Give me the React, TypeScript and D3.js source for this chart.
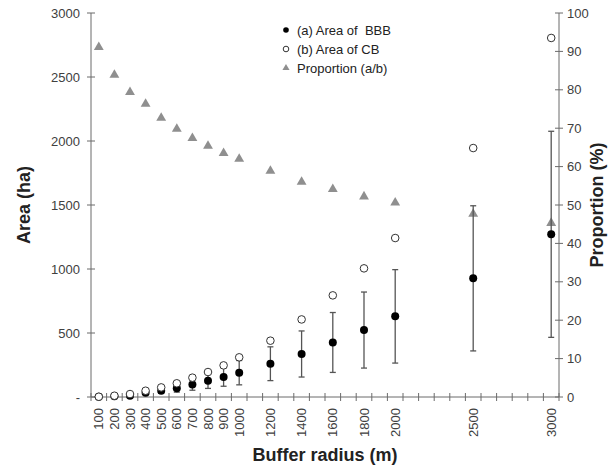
import React from 'react';
import * as d3 from 'd3';

// buffer radius (m)
const radius = [100, 200, 300, 400, 500, 600, 700, 800, 900, 1000, 1200, 1400, 1600, 1800, 2000, 2500, 3000];
// (a) area of BBB (ha), mean and sd
const areaBBB = [1, 5, 10, 34, 49, 68, 98, 127, 156, 190, 260, 336, 426, 523, 630, 927, 1271];
const sdBBB = [1, 3, 6, 12, 20, 30, 45, 60, 72, 95, 132, 180, 234, 297, 365, 567, 805];
// (b) area of CB (ha)
const areaCB = [2, 10, 23, 49, 75, 107, 151, 195, 247, 310, 440, 606, 794, 1005, 1242, 1945, 2805];
// proportion a/b (%)
const proportion = [91.1, 83.9, 79.4, 76.3, 72.7, 69.8, 67.4, 65.4, 63.5, 62, 58.9, 56, 54.1, 52.2, 50.6, 47.7, 45.3];

const leftTicks = [0, 500, 1000, 1500, 2000, 2500, 3000];
const rightTicks = [0, 10, 20, 30, 40, 50, 60, 70, 80, 90, 100];

const W = 613;
const H = 467;

const App = () => {
  const x = d3.scaleLinear().domain([50, 3050]).range([91, 559]);
  const yL = d3.scaleLinear().domain([0, 3000]).range([397, 13]);
  const yR = d3.scaleLinear().domain([0, 100]).range([397, 13]);
  const minorX = d3.range(50, 3051, 100);
  const tri = d3.symbol().type(d3.symbolTriangle).size(42)();
  const axisCol = '#6b6b6b';
  const textCol = '#404040';
  const font = 'Arial, "Liberation Sans", sans-serif';

  return (
    <svg width={W} height={H} style={{ position: 'absolute', left: 0, top: 0 }} fontFamily={font}>
      <rect width={W} height={H} fill="#fff" />

      {/* axes */}
      <line x1={91} x2={91} y1={13} y2={397} stroke={axisCol} />
      <line x1={559} x2={559} y1={13} y2={397} stroke={axisCol} />
      <line x1={91} x2={559} y1={397} y2={397} stroke={axisCol} />

      {leftTicks.map(t => (
        <g key={'l' + t}>
          <line x1={87} x2={95} y1={yL(t)} y2={yL(t)} stroke={axisCol} />
          <text x={80} y={yL(t)} dy="0.35em" textAnchor="end" fontSize={13} fill={textCol}>
            {t === 0 ? '-' : t}
          </text>
        </g>
      ))}
      {rightTicks.map(t => (
        <g key={'r' + t}>
          <line x1={555} x2={563} y1={yR(t)} y2={yR(t)} stroke={axisCol} />
          <text x={567} y={yR(t)} dy="0.35em" textAnchor="start" fontSize={13} fill={textCol}>
            {t}
          </text>
        </g>
      ))}
      {minorX.map(t => (
        <line key={'x' + t} x1={x(t)} x2={x(t)} y1={393} y2={401} stroke={axisCol} />
      ))}
      {radius.map(r => (
        <text key={'xl' + r} transform={`translate(${x(r)},408) rotate(-90)`} dy="0.35em"
          textAnchor="end" fontSize={13} fill={textCol}>
          {r}
        </text>
      ))}

      {/* axis titles */}
      <text transform="translate(30,205) rotate(-90)" textAnchor="middle" fontSize={18} fontWeight="bold" fill="#222">
        Area (ha)
      </text>
      <text transform="translate(603,205) rotate(-90)" textAnchor="middle" fontSize={18} fontWeight="bold" fill="#222">
        Proportion (%)
      </text>
      <text x={325} y={461} textAnchor="middle" fontSize={18} fontWeight="bold" fill="#222">
        Buffer radius (m)
      </text>

      {/* proportion */}
      {radius.map((r, i) => (
        <path key={'p' + r} d={tri} transform={`translate(${x(r)},${yR(proportion[i])})`} fill="#8f8f8f" />
      ))}

      {/* error bars */}
      {radius.map((r, i) => {
        const lo = yL(areaBBB[i] - sdBBB[i]);
        const hi = yL(areaBBB[i] + sdBBB[i]);
        return (
          <g key={'e' + r} stroke="#555" strokeWidth={1.3}>
            <line x1={x(r)} x2={x(r)} y1={lo} y2={hi} />
            <line x1={x(r) - 3} x2={x(r) + 3} y1={lo} y2={lo} />
            <line x1={x(r) - 3} x2={x(r) + 3} y1={hi} y2={hi} />
          </g>
        );
      })}

      {/* area BBB */}
      {radius.map((r, i) => (
        <circle key={'a' + r} cx={x(r)} cy={yL(areaBBB[i])} r={4} fill="#000" />
      ))}
      {/* area CB, drawn on top */}
      {radius.map((r, i) => (
        <circle key={'b' + r} cx={x(r)} cy={yL(areaCB[i])} r={3.8} fill="#fff" stroke="#333" strokeWidth={1} />
      ))}

      {/* legend */}
      <g fontSize={13} fill="#222">
        <circle cx={286} cy={30} r={2.8} fill="#000" />
        <text x={297} y={30} dy="0.35em" xmlSpace="preserve">(a) Area of  BBB</text>
        <circle cx={286} cy={49} r={2.8} fill="#fff" stroke="#333" />
        <text x={297} y={49} dy="0.35em">(b) Area of CB</text>
        <path d={d3.symbol().type(d3.symbolTriangle).size(22)()} transform="translate(286,68)" fill="#8f8f8f" />
        <text x={297} y={68} dy="0.35em">Proportion (a/b)</text>
      </g>
    </svg>
  );
};

export default App;
